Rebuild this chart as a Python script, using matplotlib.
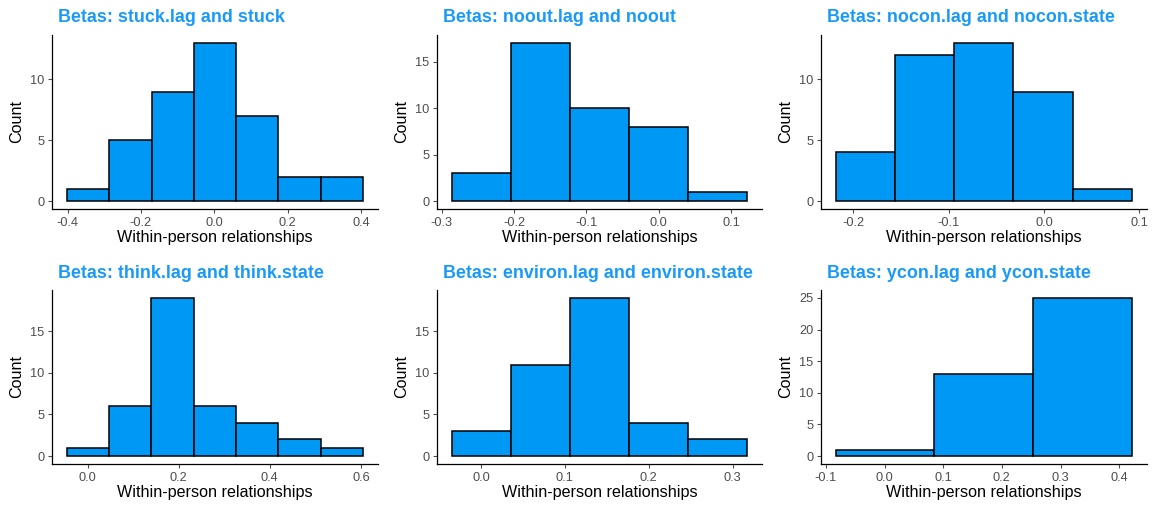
import matplotlib
matplotlib.use("Agg")
import matplotlib.pyplot as plt
import numpy as np

plt.rcParams['font.family'] = ['Liberation Sans', 'DejaVu Sans']

titles = ["Betas: stuck.lag and stuck",
          "Betas: noout.lag and noout",
          "Betas: nocon.lag and nocon.state",
          "Betas: think.lag and think.state",
          "Betas: environ.lag and environ.state",
          "Betas: ycon.lag and ycon.state"]

# bin edges
edges_stuck = [-0.402, -0.287, -0.171, -0.056, 0.060, 0.175, 0.291, 0.406]
edges_noout = [-0.286, -0.204, -0.123, -0.041, 0.041, 0.1225]
edges_nocon = [-0.2185, -0.1563, -0.0944, -0.0322, 0.0301, 0.0927]
edges_think = [-0.0454, 0.0476, 0.1398, 0.2327, 0.3256, 0.4190, 0.5122, 0.6051]
edges_environ = [-0.0348, 0.0356, 0.1056, 0.1764, 0.2469, 0.3174]
edges_ycon = [-0.083, 0.085, 0.2535, 0.4221]

counts_stuck = [1, 5, 9, 13, 7, 2, 2]
counts_noout = [3, 17, 10, 8, 1]
counts_nocon = [4, 12, 13, 9, 1]
counts_think = [1, 6, 19, 6, 4, 2, 1]
counts_environ = [3, 11, 19, 4, 2]
counts_ycon = [1, 13, 25]

xticks_list = [[-0.4, -0.2, 0.0, 0.2, 0.4],
               [-0.3, -0.2, -0.1, 0.0, 0.1],
               [-0.2, -0.1, 0.0, 0.1],
               [0.0, 0.2, 0.4, 0.6],
               [0.0, 0.1, 0.2, 0.3],
               [-0.1, 0.0, 0.1, 0.2, 0.3, 0.4]]
yticks_list = [[0, 5, 10],
               [0, 5, 10, 15],
               [0, 5, 10],
               [0, 5, 10, 15],
               [0, 5, 10, 15],
               [0, 5, 10, 15, 20, 25]]

edges_list = [edges_stuck, edges_noout, edges_nocon, edges_think, edges_environ, edges_ycon]
counts_list = [counts_stuck, counts_noout, counts_nocon, counts_think, counts_environ, counts_ycon]

W, H = 1153, 508
fig = plt.figure(figsize=(W/100, H/100), dpi=100)

# axes boxes in pixels: left, top, right, bottom
lefts = [52, 437, 821]
rights = [378, 762, 1147]
tops = [35, 290]
bottoms = [209, 464]

fill = "#0098F5"
title_col = "#1A9AF7"
tick_col = "#4D4D4D"

for i in range(6):
    r, c = divmod(i, 3)
    l, rt, t, b = lefts[c], rights[c], tops[r], bottoms[r]
    ax = fig.add_axes([l/W, 1-b/H, (rt-l)/W, (b-t)/H])
    edges = np.array(edges_list[i])
    counts = counts_list[i]
    ax.bar(edges[:-1], counts, width=np.diff(edges), align='edge',
           color=fill, edgecolor="black", linewidth=1.1)
    xr = edges[-1]-edges[0]
    ax.set_xlim(edges[0]-0.05*xr, edges[-1]+0.05*xr)
    ym = max(counts)
    ax.set_ylim(-0.05*ym, 1.05*ym)
    ax.set_xticks(xticks_list[i])
    ax.set_xticklabels([f"{v:.1f}" for v in xticks_list[i]])
    ax.set_yticks(yticks_list[i])
    for s in ["top", "right"]:
        ax.spines[s].set_visible(False)
    for s in ["left", "bottom"]:
        ax.spines[s].set_linewidth(0.9)
    ax.tick_params(axis="both", colors=tick_col, labelsize=9.2, length=3, width=0.8, pad=2.5)
    ax.set_xlabel("Within-person relationships", fontsize=11.6, labelpad=1)
    ax.set_ylabel("Count", fontsize=11.6, labelpad=4)
    ax.set_title(titles[i], loc="left", x=0.018, color=title_col, fontsize=12.9,
                 fontweight="bold", pad=9)

fig.savefig("out.png", dpi=100, facecolor="white")
